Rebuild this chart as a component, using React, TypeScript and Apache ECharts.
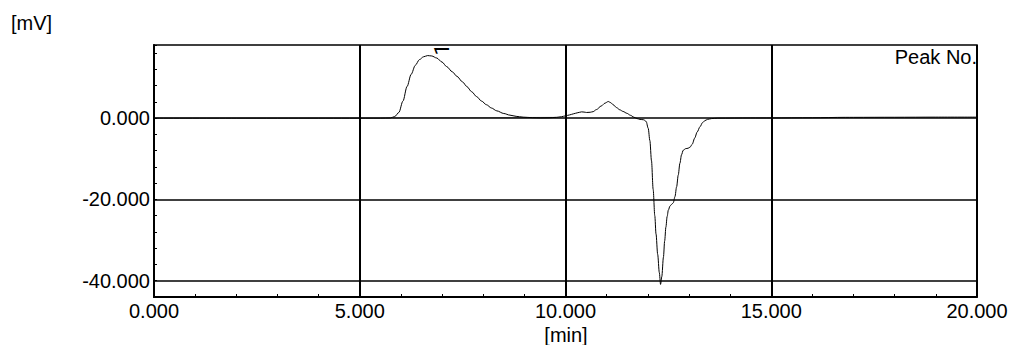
import React, { useEffect, useRef } from "react";
import * as echarts from "echarts";

// Detector trace: retention time [min] and signal [mV]
const retentionTimes = [
  0, 2, 4, 5.5, 5.75, 5.85, 5.95, 6.05, 6.15, 6.25, 6.35, 6.45, 6.55, 6.65, 6.75,
  6.87, 7.0, 7.11, 7.25, 7.36, 7.5, 7.6, 7.72, 7.84, 7.96, 8.08, 8.2, 8.33, 8.5,
  8.65, 8.8, 8.97, 9.2, 9.4, 9.6, 9.78, 9.9, 10.0, 10.1, 10.19, 10.3, 10.39, 10.45,
  10.51, 10.6, 10.67, 10.75, 10.87, 10.96, 11.04, 11.1, 11.16, 11.24, 11.32, 11.4,
  11.49, 11.58, 11.66, 11.74, 11.81, 11.9, 11.96, 12.01, 12.05, 12.09, 12.13, 12.17,
  12.2, 12.24, 12.28, 12.31, 12.34, 12.38, 12.41, 12.44, 12.47, 12.5, 12.54, 12.58,
  12.62, 12.66, 12.7, 12.74, 12.78, 12.82, 12.86, 12.92, 12.98, 13.03, 13.08, 13.14,
  13.2, 13.27, 13.33, 13.39, 13.45, 13.55, 13.7, 14.5, 15, 16, 16.8, 17, 18, 19, 20,
];
const signal = [
  0, 0, 0, 0, 0.05, 0.4, 1.4, 4.2, 7.8, 10.8, 13.0, 14.4, 15.1, 15.4, 15.3,
  14.8, 13.8, 12.7, 11.4, 10.3, 8.9, 7.8, 6.5, 5.3, 4.2, 3.3, 2.5, 1.8, 1.15,
  0.74, 0.45, 0.25, 0.12, 0.07, 0.1, 0.2, 0.35, 0.57, 0.8, 1.06, 1.35, 1.55, 1.5,
  1.4, 1.45, 1.6, 2.1, 3.0, 3.7, 4.1, 3.8, 3.3, 2.6, 2.05, 1.65,
  1.2, 0.7, 0.25, -0.1, -0.3, -0.4, -0.8, -2.5, -5.5, -10.5, -17.5, -24,
  -28.5, -33.5, -38, -40.9, -39, -34.2, -30.2, -26.8, -24.2, -22.6, -21.6, -21.2,
  -20.8, -19.3, -16.9, -14, -11.1, -9.0, -7.9, -7.5, -7.4, -7.1, -6.4, -4.9,
  -3.4, -2.1, -1.1, -0.6, -0.3, -0.1, 0, 0.05, 0.05, 0.1, 0.2, 0.2, 0.22, 0.25, 0.25,
];

// Integration baseline under peak 1
const peakBaselineTimes = [5.8, 9.78];
const peakBaselineValues = [0.05, 0.2];

// Peak annotation
const peakNumbers = ["1"];
const peakApexTimes = [6.65];
const peakApexValues = [15.4];

// Axis settings
const xMin = 0;
const xMax = 20;
const xMajorStep = 5;
const yMin = -44;
const yMax = 18;
const yTickStep = 4;
const yLabelLevels = [0, -20, -40];

const FONT = "Liberation Sans";
const FONT_SIZE = 20;

export default function App() {
  const ref = useRef<HTMLDivElement>(null);

  useEffect(() => {
    if (!ref.current) return;
    const chart = echarts.init(ref.current, undefined, { renderer: "svg" });

    const trace = retentionTimes.map((t, i) => [t, signal[i]]);
    const baseline = peakBaselineTimes.map((t, i) => [t, peakBaselineValues[i]]);

    chart.setOption({
      animation: false,
      backgroundColor: "#fff",
      textStyle: { fontFamily: FONT },
      grid: {
        left: 154,
        right: 34,
        top: 45,
        bottom: 48,
        show: true,
        borderColor: "#000",
        borderWidth: 1.5,
        backgroundColor: "transparent",
      },
      xAxis: {
        type: "value",
        min: xMin,
        max: xMax,
        interval: xMajorStep,
        axisLine: { show: true, onZero: false, lineStyle: { color: "#000", width: 2 } },
        axisTick: { show: true, inside: true, length: 3, lineStyle: { color: "#000", width: 1 } },
        minorTick: { show: true, splitNumber: 5, length: 3, lineStyle: { color: "#000", width: 1 } },
        splitLine: { show: true, lineStyle: { color: "#000", width: 2 } },
        axisLabel: {
          show: true,
          color: "#000",
          fontSize: FONT_SIZE,
          fontFamily: FONT,
          margin: 4,
          showMinLabel: true,
          showMaxLabel: true,
          formatter: (v: number) => v.toFixed(3),
        },
      },
      yAxis: {
        type: "value",
        min: yMin,
        max: yMax,
        interval: yTickStep,
        axisLine: { show: true, onZero: false, lineStyle: { color: "#000", width: 2 } },
        axisTick: { show: true, inside: true, length: 3, lineStyle: { color: "#000", width: 1 } },
        splitLine: { show: false },
        axisLabel: {
          show: true,
          color: "#000",
          fontSize: FONT_SIZE,
          fontFamily: FONT,
          margin: 4,
          formatter: (v: number) => (yLabelLevels.includes(v) ? v.toFixed(3) : ""),
        },
      },
      series: [
        {
          type: "line",
          data: baseline,
          showSymbol: false,
          silent: true,
          lineStyle: { color: "#9a9a9a", width: 1 },
          z: 1,
        },
        {
          type: "line",
          data: trace,
          showSymbol: false,
          smooth: 0.3,
          smoothMonotone: "x",
          silent: true,
          lineStyle: { color: "#000", width: 1 },
          z: 3,
          markLine: {
            silent: true,
            symbol: "none",
            label: { show: false },
            lineStyle: { color: "#000", type: "solid", width: 1.5 },
            data: yLabelLevels.map((y) => ({ yAxis: y })),
            z: 2,
          },
          markPoint: {
            silent: true,
            symbol: "rect",
            symbolSize: 1,
            itemStyle: { color: "rgba(0,0,0,0)" },
            data: peakNumbers.map((n, i) => ({
              coord: [peakApexTimes[i], peakApexValues[i]],
              value: n,
            })),
            label: {
              show: true,
              position: "inside",
              formatter: (p: any) => p.value,
              rotate: 90,
              offset: [6, 14],
              color: "#000",
              fontSize: 21,
              fontFamily: "Roboto",
            },
          },
        },
      ],
      graphic: [
        {
          type: "text",
          left: 11,
          top: 13,
          style: { text: "[mV]", font: `${FONT_SIZE}px ${FONT}`, fill: "#000" },
        },
        {
          type: "text",
          x: 566,
          y: 325,
          style: {
            text: "[min]",
            font: `${FONT_SIZE}px ${FONT}`,
            fill: "#000",
            align: "center",
            verticalAlign: "top",
          },
        },
        {
          type: "text",
          x: 977,
          y: 47,
          style: {
            text: "Peak No.",
            font: `${FONT_SIZE}px ${FONT}`,
            fill: "#000",
            align: "right",
            verticalAlign: "top",
          },
        },
      ],
    });

    return () => chart.dispose();
  }, []);

  return (
    <div
      ref={ref}
      style={{ position: "fixed", left: 0, top: 0, width: 1011, height: 345, background: "#fff" }}
    />
  );
}
